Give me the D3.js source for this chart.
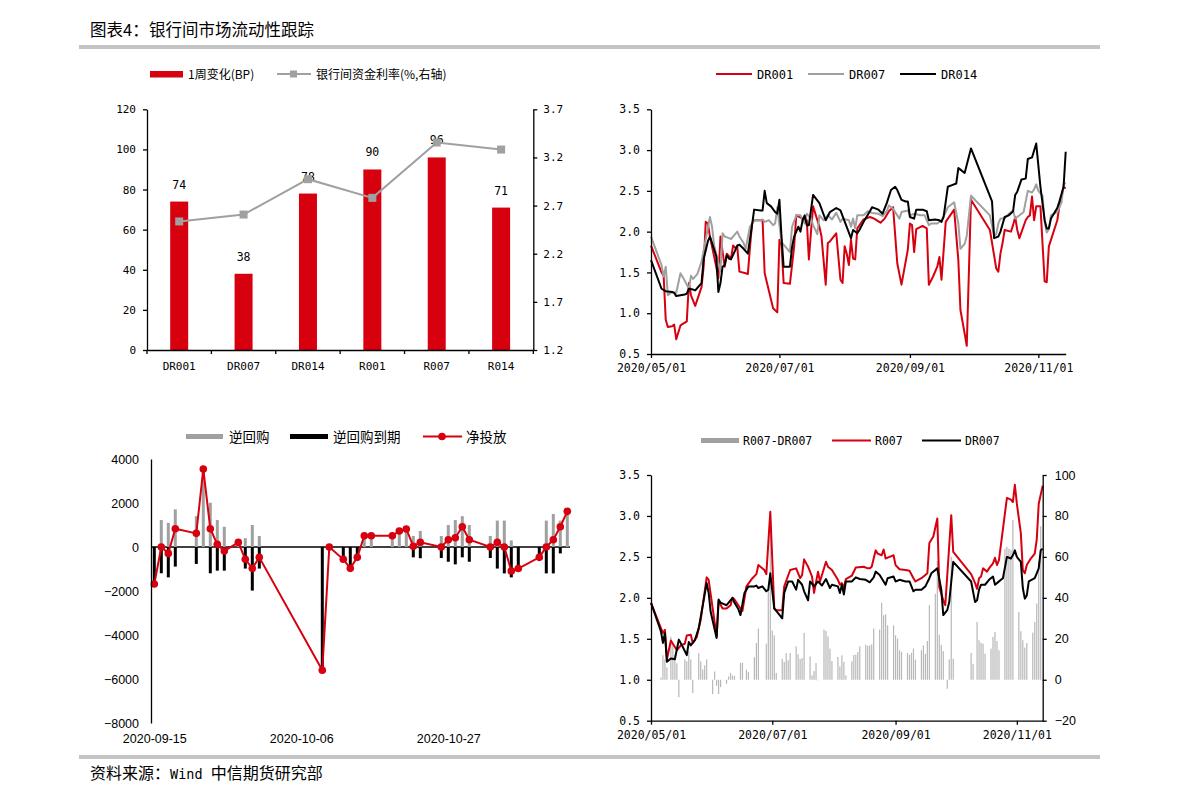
<!DOCTYPE html>
<html>
<head>
<meta charset="utf-8">
<script src="https://cdn.jsdelivr.net/npm/d3@7"></script>
<style>
    body { margin: 0; background: #fff; }
    svg { display: block; }
</style>
</head>
<body>
<svg id="chart" width="1191" height="801"></svg>
<script>
/* === 图表4 银行间市场流动性跟踪 (D3.js v7) === */

// ---- panel 1: weekly change (bars) + rate level (line, right axis)
var weekCats = ['DR001', 'DR007', 'DR014', 'R001', 'R007', 'R014'];
var weekChange = [74, 38, 78, 90, 96, 71];
var weekRate = [2.535, 2.607, 2.974, 2.780, 3.355, 3.282];
var p1LeftTicks = [0, 20, 40, 60, 80, 100, 120];
var p1RightTicks = [1.2, 1.7, 2.2, 2.7, 3.2, 3.7];

// ---- shared rate ticks / date ticks
var rateTicks = [0.5, 1.0, 1.5, 2.0, 2.5, 3.0, 3.5];
var monthTicks = ['05-01', '07-01', '09-01', '11-01'];
var spreadTicks = [-20, 0, 20, 40, 60, 80, 100];

// ---- panel 2 / 4 series ([MM-DD, %])
var DR001 = [
    ['05-01', 1.83], ['05-06', 1.50], ['05-07', 1.46], ['05-08', 0.92], ['05-09', 0.83], ['05-11', 0.84],
    ['05-12', 0.86], ['05-13', 0.68], ['05-15', 0.85], ['05-18', 0.90], ['05-19', 1.37], ['05-20', 1.22],
    ['05-22', 1.09], ['05-25', 1.32], ['05-26', 1.57], ['05-27', 2.12], ['05-28', 2.10], ['05-29', 1.94],
    ['06-01', 1.57], ['06-02', 1.43], ['06-03', 1.94], ['06-05', 1.57], ['06-06', 1.73], ['06-08', 1.67],
    ['06-09', 1.83], ['06-10', 1.80], ['06-11', 1.81], ['06-12', 1.51], ['06-15', 1.49], ['06-16', 1.48],
    ['06-17', 1.80], ['06-18', 2.10], ['06-19', 2.14], ['06-22', 2.14], ['06-23', 2.14], ['06-24', 1.49],
    ['06-28', 1.06], ['06-30', 1.01], ['07-01', 1.90], ['07-02', 1.84], ['07-03', 1.37], ['07-06', 1.36],
    ['07-08', 1.82], ['07-09', 2.20], ['07-12', 2.16], ['07-14', 2.14], ['07-15', 1.66], ['07-16', 2.00],
    ['07-17', 2.31], ['07-20', 2.06], ['07-21', 1.94], ['07-23', 1.35], ['07-24', 1.86], ['07-25', 1.88],
    ['07-28', 1.98], ['07-30', 1.41], ['07-31', 1.37], ['08-01', 1.82], ['08-02', 1.73], ['08-03', 1.59],
    ['08-04', 1.90], ['08-05', 1.67], ['08-06', 1.66], ['08-07', 2.04], ['08-10', 2.15], ['08-13', 2.18],
    ['08-15', 2.16], ['08-18', 2.11], ['08-20', 2.16], ['08-22', 2.25], ['08-24', 2.30], ['08-26', 1.61],
    ['08-28', 1.35], ['08-31', 1.78], ['09-01', 2.10], ['09-02', 2.08], ['09-03', 1.75], ['09-04', 2.03],
    ['09-07', 2.07], ['09-09', 2.04], ['09-10', 1.35], ['09-12', 1.45], ['09-14', 1.57], ['09-15', 1.69],
    ['09-16', 1.41], ['09-18', 2.12], ['09-22', 2.27], ['09-24', 1.65], ['09-25', 1.04], ['09-27', 0.75],
    ['09-28', 0.60], ['09-30', 2.39], ['10-09', 2.02], ['10-12', 1.55], ['10-13', 1.51], ['10-14', 1.73],
    ['10-15', 1.86], ['10-16', 2.02], ['10-19', 2.00], ['10-20', 2.08], ['10-21', 2.18], ['10-22', 2.02],
    ['10-23', 1.92], ['10-26', 2.14], ['10-27', 2.18], ['10-28', 2.20], ['10-29', 2.43], ['10-30', 2.14],
    ['10-31', 2.31], ['11-02', 2.31], ['11-04', 1.39], ['11-05', 1.38], ['11-06', 1.82], ['11-10', 2.14],
    ['11-11', 2.31], ['11-13', 2.55], ['11-14', 2.53]
];

var DR007 = [
    ['05-01', 1.94], ['05-06', 1.59], ['05-07', 1.45], ['05-08', 1.57], ['05-09', 1.22], ['05-11', 1.26],
    ['05-13', 1.25], ['05-15', 1.49], ['05-17', 1.40], ['05-19', 1.30], ['05-20', 1.46], ['05-21', 1.42],
    ['05-23', 1.48], ['05-25', 1.63], ['05-29', 2.18], ['05-30', 2.06], ['05-31', 1.83], ['06-03', 1.51],
    ['06-04', 1.98], ['06-05', 1.94], ['06-07', 1.92], ['06-08', 1.91], ['06-11', 2.00], ['06-12', 1.94],
    ['06-14', 1.86], ['06-15', 1.79], ['06-17', 2.06], ['06-19', 2.14], ['06-22', 2.14], ['06-23', 2.15],
    ['06-24', 2.12], ['06-26', 2.14], ['06-28', 2.08], ['06-29', 2.10], ['06-30', 2.30], ['07-02', 1.87],
    ['07-03', 1.84], ['07-06', 1.75], ['07-07', 2.06], ['07-09', 2.20], ['07-11', 2.20], ['07-13', 2.10],
    ['07-14', 2.22], ['07-16', 2.16], ['07-17', 2.08], ['07-19', 1.97], ['07-20', 2.20], ['07-22', 2.14],
    ['07-24', 2.20], ['07-26', 2.15], ['07-28', 2.23], ['07-30', 2.12], ['07-31', 2.16], ['08-03', 2.14],
    ['08-04', 2.06], ['08-05', 2.16], ['08-06', 2.04], ['08-07', 2.20], ['08-10', 2.20], ['08-12', 2.25],
    ['08-14', 2.23], ['08-17', 2.22], ['08-19', 2.19], ['08-21', 2.25], ['08-22', 2.32], ['08-24', 2.28],
    ['08-26', 2.20], ['08-27', 2.16], ['08-28', 2.24], ['08-31', 2.26], ['09-01', 2.20], ['09-03', 2.22],
    ['09-06', 2.20], ['09-08', 2.20], ['09-10', 2.08], ['09-11', 2.10], ['09-14', 2.10], ['09-16', 2.14],
    ['09-18', 2.24], ['09-19', 2.30], ['09-22', 2.36], ['09-24', 2.10], ['09-25', 1.79], ['09-27', 1.85],
    ['09-28', 1.95], ['09-30', 2.44], ['10-09', 2.20], ['10-11', 1.95], ['10-12', 1.97], ['10-13', 2.10],
    ['10-14', 2.16], ['10-16', 2.16], ['10-18', 2.22], ['10-20', 2.26], ['10-21', 2.16], ['10-22', 2.18],
    ['10-24', 2.22], ['10-25', 2.24], ['10-27', 2.50], ['10-29', 2.48], ['10-30', 2.52], ['10-31', 2.58],
    ['11-01', 2.50], ['11-03', 2.44], ['11-04', 2.12], ['11-05', 1.99], ['11-06', 2.03], ['11-07', 2.20],
    ['11-10', 2.24], ['11-11', 2.30], ['11-12', 2.36], ['11-13', 2.58], ['11-14', 2.60]
];

var DR014 = [
    ['05-01', 1.65], ['05-06', 1.30], ['05-08', 1.27], ['05-11', 1.26], ['05-12', 1.25], ['05-13', 1.21],
    ['05-15', 1.22], ['05-17', 1.23], ['05-18', 1.24], ['05-19', 1.30], ['05-21', 1.29], ['05-22', 1.28],
    ['05-25', 1.37], ['05-26', 1.66], ['05-28', 1.88], ['05-29', 1.94], ['06-01', 1.70], ['06-02', 1.26],
    ['06-03', 1.37], ['06-04', 1.57], ['06-05', 1.59], ['06-06', 1.71], ['06-07', 1.67], ['06-08', 1.66],
    ['06-10', 1.77], ['06-11', 1.83], ['06-12', 1.84], ['06-14', 1.79], ['06-16', 1.73], ['06-18', 2.08],
    ['06-19', 2.27], ['06-22', 2.26], ['06-23', 2.26], ['06-24', 2.50], ['06-25', 2.35], ['06-27', 2.31],
    ['06-29', 2.24], ['06-30', 2.22], ['07-01', 2.39], ['07-02', 1.94], ['07-03', 1.57], ['07-06', 1.57],
    ['07-07', 1.81], ['07-08', 1.94], ['07-10', 2.06], ['07-11', 2.00], ['07-12', 2.14], ['07-13', 2.20],
    ['07-14', 2.08], ['07-15', 2.08], ['07-17', 2.45], ['07-20', 2.35], ['07-23', 2.14], ['07-25', 2.24],
    ['07-28', 2.29], ['07-30', 2.26], ['08-04', 1.92], ['08-05', 2.02], ['08-07', 1.98], ['08-08', 2.02],
    ['08-10', 2.12], ['08-13', 2.25], ['08-14', 2.30], ['08-17', 2.27], ['08-19', 2.22], ['08-21', 2.35],
    ['08-23', 2.51], ['08-25', 2.55], ['08-26', 2.51], ['08-28', 2.39], ['08-30', 2.37], ['08-31', 2.37],
    ['09-01', 2.18], ['09-03', 2.16], ['09-04', 2.27], ['09-07', 2.27], ['09-09', 2.25], ['09-10', 2.14],
    ['09-13', 2.15], ['09-15', 2.14], ['09-16', 2.12], ['09-17', 2.18], ['09-19', 2.55], ['09-21', 2.57],
    ['09-23', 2.59], ['09-24', 2.78], ['09-25', 2.76], ['09-27', 2.72], ['09-30', 3.02], ['10-10', 2.37],
    ['10-11', 1.92], ['10-13', 1.94], ['10-14', 2.00], ['10-16', 2.18], ['10-18', 2.20], ['10-20', 2.25],
    ['10-21', 2.45], ['10-22', 2.49], ['10-24', 2.64], ['10-26', 2.65], ['10-27', 2.89], ['10-29', 2.91],
    ['10-31', 3.08], ['11-02', 2.55], ['11-04', 2.14], ['11-05', 2.04], ['11-06', 2.04], ['11-07', 2.16],
    ['11-10', 2.29], ['11-11', 2.37], ['11-13', 2.55], ['11-14', 2.98]
];

var R007 = [
    ['05-01', 1.94], ['05-06', 1.63], ['05-07', 1.57], ['05-08', 1.61], ['05-09', 1.25], ['05-11', 1.48],
    ['05-13', 1.40], ['05-14', 1.36], ['05-16', 1.42], ['05-18', 1.44], ['05-19', 1.54], ['05-21', 1.55],
    ['05-22', 1.45], ['05-24', 1.52], ['05-26', 1.73], ['05-29', 2.25], ['05-30', 2.22], ['06-03', 1.53],
    ['06-04', 1.96], ['06-06', 1.87], ['06-08', 1.87], ['06-10', 1.91], ['06-11', 2.00], ['06-12', 1.98],
    ['06-15', 1.87], ['06-16', 1.84], ['06-18', 2.14], ['06-21', 2.24], ['06-23', 2.29], ['06-24', 2.40],
    ['06-27', 2.34], ['06-28', 2.29], ['06-30', 3.05], ['07-02', 1.87], ['07-03', 1.85], ['07-06', 1.85],
    ['07-07', 2.14], ['07-10', 2.34], ['07-13', 2.36], ['07-15', 2.24], ['07-16', 2.28], ['07-17', 2.47],
    ['07-19', 2.38], ['07-21', 2.26], ['07-22', 2.06], ['07-24', 2.32], ['07-25', 2.20], ['07-28', 2.44],
    ['07-29', 2.38], ['07-31', 2.34], ['08-03', 2.22], ['08-04', 2.16], ['08-05', 2.18], ['08-06', 2.12],
    ['08-07', 2.23], ['08-10', 2.27], ['08-12', 2.37], ['08-16', 2.38], ['08-18', 2.36], ['08-19', 2.36],
    ['08-20', 2.38], ['08-22', 2.58], ['08-23', 2.54], ['08-25', 2.52], ['08-26', 2.59], ['08-27', 2.48],
    ['08-29', 2.50], ['08-31', 2.52], ['09-01', 2.40], ['09-03', 2.35], ['09-06', 2.34], ['09-08', 2.33],
    ['09-10', 2.24], ['09-11', 2.20], ['09-14', 2.24], ['09-16', 2.28], ['09-17', 2.30], ['09-18', 2.67],
    ['09-20', 2.75], ['09-22', 2.97], ['09-23', 2.13], ['09-25', 1.97], ['09-26', 1.91], ['09-29', 3.01],
    ['09-30', 2.56], ['10-09', 2.29], ['10-11', 2.18], ['10-12', 2.11], ['10-13', 2.24], ['10-14', 2.26],
    ['10-15', 2.36], ['10-17', 2.32], ['10-18', 2.36], ['10-20', 2.42], ['10-21', 2.49], ['10-22', 2.40],
    ['10-23', 2.46], ['10-27', 3.22], ['10-29', 3.20], ['10-30', 3.17], ['10-31', 3.38], ['11-01', 3.15],
    ['11-03', 2.79], ['11-04', 2.34], ['11-05', 2.30], ['11-06', 2.40], ['11-08', 2.48], ['11-10', 2.54],
    ['11-11', 2.71], ['11-12', 3.15], ['11-14', 3.37]
];

// R007-DR007 spread, bp
var spread = [
    ['05-06', 1], ['05-07', 12], ['05-08', 10], ['05-09', 6], ['05-11', 21], ['05-12', 17], ['05-13', 12],
    ['05-14', 8], ['05-15', -8.5], ['05-18', 10], ['05-19', 9], ['05-20', 14], ['05-21', 10], ['05-22', -6.5],
    ['05-25', 13], ['05-26', 9], ['05-27', 5], ['05-28', 7], ['05-29', 10], ['06-01', -7], ['06-02', 4],
    ['06-03', -3], ['06-04', -7], ['06-05', -3.6], ['06-08', -2], ['06-09', 1.6], ['06-10', 3.3], ['06-11', 2.1],
    ['06-12', 1.8], ['06-15', 8.2], ['06-16', 8.2], ['06-18', 4.9], ['06-19', 3.8], ['06-22', 11], ['06-23', 18],
    ['06-24', 25], ['06-28', 17.6], ['06-29', 45], ['06-30', 72], ['07-01', 24], ['07-02', 21.7], ['07-03', 3.3],
    ['07-06', 10.3], ['07-07', 8.7], ['07-08', 13], ['07-09', 9.5], ['07-10', 13], ['07-13', 16.3], ['07-14', 12.4],
    ['07-15', 10.1], ['07-16', 10.6], ['07-17', 22.9], ['07-20', 11.4], ['07-21', 2.1], ['07-22', 4.2],
    ['07-23', 8.2], ['07-24', -0.3], ['07-27', 24.5], ['07-28', 23.8], ['07-29', 21.2], ['07-30', 15.2],
    ['07-31', 9.1], ['08-03', 11.1], ['08-04', 6.5], ['08-05', 11.9], ['08-06', 8.7], ['08-07', 2.1],
    ['08-10', 9], ['08-11', 12.2], ['08-12', 12.2], ['08-13', 13.6], ['08-14', 16.3], ['08-17', 17.1],
    ['08-18', 16.5], ['08-19', 16.8], ['08-20', 17.3], ['08-21', 25], ['08-24', 24.5], ['08-25', 37.6],
    ['08-26', 31.5], ['08-27', 32], ['08-28', 26.6], ['08-31', 26.6], ['09-01', 21.7], ['09-02', 20.1],
    ['09-03', 14.4], ['09-04', 13.6], ['09-07', 13.1], ['09-08', 12.2], ['09-09', 13.1], ['09-10', 15.2],
    ['09-11', 9.8], ['09-14', 14.4], ['09-15', 16.8], ['09-16', 12.7], ['09-17', 18.9], ['09-18', 36.4],
    ['09-21', 42], ['09-22', 58], ['09-23', 22], ['09-24', 17], ['09-25', 14], ['09-27', -4.4], ['09-28', 10],
    ['09-29', 60], ['09-30', 10.3], ['10-09', 13.1], ['10-10', 7.8], ['10-12', 28.2], ['10-13', 19.3],
    ['10-14', 18], ['10-15', 17.6], ['10-16', 12.7], ['10-19', 15.2], ['10-20', 20.9], ['10-21', 23.3],
    ['10-22', 18.9], ['10-23', 14.4], ['10-26', 64], ['10-27', 65], ['10-28', 64], ['10-29', 63.5],
    ['10-30', 78], ['11-02', 33.1], ['11-03', 23.7], ['11-04', 19.3], ['11-05', 15.7], ['11-06', 18],
    ['11-09', 23], ['11-10', 28.2], ['11-11', 37.2], ['11-12', 58], ['11-13', 75]
];

// ---- panel 3: open market operations, 亿元
var omoDates = ['09-15', '09-16', '09-17', '09-18', '09-21', '09-22', '09-23', '09-24', '09-25', '09-27',
    '09-28', '09-29', '09-30', '10-09', '10-10', '10-12', '10-13', '10-14', '10-15', '10-16', '10-19',
    '10-20', '10-21', '10-22', '10-23', '10-26', '10-27', '10-28', '10-29', '10-30', '11-02', '11-03',
    '11-04', '11-05', '11-06', '11-09', '11-10', '11-11', '11-12', '11-13'];
var reverseRepo = [0, 1225, 1100, 1710, 1400, 3500, 2010, 1225, 920, 200, 400, 1000, 500, 0, 0, 0, 0, 0,
    510, 510, 510, 730, 820, 500, 730, 500, 1000, 1225, 1400, 1000, 500, 1200, 1200, 300, 0, 0, 1200,
    1500, 1200, 1600];
var repoMaturity = [1680, 1195, 1380, 890, 770, 0, 1195, 1075, 1075, 0, 980, 1980, 980, 5600, 0, 560,
    980, 470, 0, 0, 0, 0, 0, 470, 510, 500, 670, 790, 470, 670, 500, 980, 1200, 1380, 980, 470, 1200,
    1200, 290, 0];
var netInjection = [-1680, 0, -290, 830, 620, 3540, 830, 120, -180, 210, -560, -970, -470, -5600, 0,
    -560, -970, -470, 510, 510, 510, 730, 820, 30, 210, 0, 330, 420, 920, 330, 0, 210, 0, -1090, -980,
    -470, 0, 330, 920, 1620];
var omoTicks = [-8000, -6000, -4000, -2000, 0, 2000, 4000];
var omoDateTicks = ['09-15', '10-06', '10-27'];

// ---- look
var RED = '#d7000f';
var GREY = '#a0a0a0';
var MONO = '"DejaVu Sans Mono", monospace';
var CJK = '"Noto Sans CJK SC", sans-serif';
var SANS = '"Liberation Sans", Arial, sans-serif';

function md(s) {
    var p = s.split('-');
    return new Date(2020, +p[0] - 1, +p[1]);
}

var svg = d3.select('#chart');

function styleAxis(g, font, size) {
    g.select('.domain').attr('stroke', '#000').attr('stroke-width', 1.3);
    g.selectAll('.tick line').attr('stroke', '#000').attr('stroke-width', 1.3);
    g.selectAll('.tick text').attr('fill', '#000')
        .style('font-family', font).style('font-size', size + 'px');
}

function addText(x, y, str, font, size, anchor) {
    return svg.append('text')
        .attr('x', x).attr('y', y)
        .attr('text-anchor', anchor || 'start')
        .style('font-family', font).style('font-size', size + 'px')
        .attr('fill', '#000')
        .text(str);
}

// ---- header / footer
addText(90, 36, '图表4：', CJK, 16.5);
addText(149, 36, '银行间市场流动性跟踪', CJK, 16.5);
svg.append('rect').attr('x', 79).attr('y', 45).attr('width', 1021).attr('height', 4).attr('fill', '#c4c4c4');
svg.append('rect').attr('x', 79).attr('y', 755).attr('width', 1021).attr('height', 4).attr('fill', '#c4c4c4');
var foot = svg.append('text').attr('x', 90).attr('y', 779).attr('fill', '#000')
    .style('font-family', CJK).style('font-size', '16px');
foot.append('tspan').text('资料来源：');
foot.append('tspan').style('font-family', MONO).style('font-size', '13.5px').text('Wind ');
foot.append('tspan').text('中信期货研究部');

/* ---------- panel 1 ---------- */
(function() {
    var x = d3.scaleBand().domain(weekCats).range([147, 533.3]);
    var y = d3.scaleLinear().domain([0, 120]).range([350, 109.3]);
    var yr = d3.scaleLinear().domain([1.2, 3.7]).range([350, 109.3]);
    var g = svg.append('g');

    g.selectAll('rect.bar')
        .data(weekChange)
        .join('rect')
        .attr('class', 'bar')
        .attr('x', function(d, i) { return x(weekCats[i]) + x.bandwidth() / 2 - 9; })
        .attr('y', function(d) { return y(d); })
        .attr('width', 18)
        .attr('height', function(d) { return y(0) - y(d); })
        .attr('fill', RED);

    g.selectAll('text.lbl')
        .data(weekChange)
        .join('text')
        .attr('class', 'lbl')
        .attr('x', function(d, i) { return x(weekCats[i]) + x.bandwidth() / 2; })
        .attr('y', function(d) { return y(d) - 13; })
        .attr('text-anchor', 'middle')
        .style('font-family', MONO).style('font-size', '11.5px')
        .text(function(d) { return d; });

    var line = d3.line()
        .x(function(d, i) { return x(weekCats[i]) + x.bandwidth() / 2; })
        .y(function(d) { return yr(d); });
    g.append('path').datum(weekRate).attr('d', line)
        .attr('fill', 'none').attr('stroke', GREY).attr('stroke-width', 2);
    g.selectAll('rect.mk')
        .data(weekRate)
        .join('rect')
        .attr('class', 'mk')
        .attr('x', function(d, i) { return x(weekCats[i]) + x.bandwidth() / 2 - 4; })
        .attr('y', function(d) { return yr(d) - 4; })
        .attr('width', 8).attr('height', 8)
        .attr('fill', GREY);

    var ax = g.append('g').attr('transform', 'translate(147,0)')
        .call(d3.axisLeft(y).tickValues(p1LeftTicks).tickSize(4).tickPadding(7).tickSizeOuter(0));
    styleAxis(ax, MONO, 11);
    var axr = g.append('g').attr('transform', 'translate(533.3,0)')
        .call(d3.axisRight(yr).tickValues(p1RightTicks).tickFormat(d3.format('.1f'))
            .tickSize(4).tickPadding(6).tickSizeOuter(0));
    styleAxis(axr, MONO, 11);
    var axb = g.append('g').attr('transform', 'translate(0,350)')
        .call(d3.axisBottom(x).tickSize(0).tickPadding(12).tickSizeOuter(0));
    styleAxis(axb, MONO, 11);
    // boundary ticks between categories
    var bounds = weekCats.map(function(c) { return x(c); }).concat([x.range()[1]]);
    g.selectAll('line.bt')
        .data(bounds)
        .join('line')
        .attr('class', 'bt')
        .attr('x1', function(d) { return d; }).attr('x2', function(d) { return d; })
        .attr('y1', 350).attr('y2', 354)
        .attr('stroke', '#000').attr('stroke-width', 1.3);

    // legend
    g.append('rect').attr('x', 150).attr('y', 71).attr('width', 33).attr('height', 6.5).attr('fill', RED);
    addText(188, 79, '1周变化(BP)', CJK, 12);
    g.append('line').attr('x1', 277).attr('x2', 311).attr('y1', 74).attr('y2', 74)
        .attr('stroke', GREY).attr('stroke-width', 2);
    g.append('rect').attr('x', 290).attr('y', 70.5).attr('width', 7).attr('height', 7).attr('fill', GREY);
    addText(316, 79, '银行间资金利率(%,右轴)', CJK, 12);
})();

/* ---------- panel 2 ---------- */
(function() {
    var x = d3.scaleTime().domain([md('05-01'), md('11-14')]).range([651, 1065.7]);
    var y = d3.scaleLinear().domain([0.5, 3.5]).range([354, 109.3]);
    var g = svg.append('g');

    var line = d3.line()
        .x(function(d) { return x(md(d[0])); })
        .y(function(d) { return y(d[1]); });

    [[DR001, RED], [DR007, GREY], [DR014, '#000']].forEach(function(s) {
        g.append('path').datum(s[0]).attr('d', line)
            .attr('fill', 'none').attr('stroke', s[1]).attr('stroke-width', 2)
            .attr('stroke-linejoin', 'round');
    });

    var ay = g.append('g').attr('transform', 'translate(651,0)')
        .call(d3.axisLeft(y).tickValues(rateTicks).tickFormat(d3.format('.1f'))
            .tickSize(4).tickPadding(7).tickSizeOuter(0));
    styleAxis(ay, MONO, 11.5);
    var axb = g.append('g').attr('transform', 'translate(0,354)')
        .call(d3.axisBottom(x).tickValues(monthTicks.map(md)).tickFormat(d3.timeFormat('%Y/%m/%d'))
            .tickSize(4).tickPadding(6).tickSizeOuter(0));
    styleAxis(axb, MONO, 11.5);

    // legend
    var items = [['DR001', RED, 716], ['DR007', GREY, 808], ['DR014', '#000', 900]];
    items.forEach(function(it) {
        g.append('line').attr('x1', it[2]).attr('x2', it[2] + 36).attr('y1', 74).attr('y2', 74)
            .attr('stroke', it[1]).attr('stroke-width', 2);
        addText(it[2] + 41, 78.5, it[0], MONO, 12);
    });
})();

/* ---------- panel 3 ---------- */
(function() {
    var x = d3.scaleTime().domain([md('09-15'), md('11-13')]).range([154.3, 567.3]);
    var y = d3.scaleLinear().domain([-8000, 4000]).range([723, 459]);
    var g = svg.append('g');

    // zero line
    g.append('line').attr('x1', 151).attr('x2', 570).attr('y1', y(0)).attr('y2', y(0))
        .attr('stroke', '#000').attr('stroke-width', 1.3);

    g.selectAll('rect.rr')
        .data(reverseRepo)
        .join('rect')
        .attr('class', 'rr')
        .attr('x', function(d, i) { return x(md(omoDates[i])) - 1.5; })
        .attr('y', function(d) { return y(d); })
        .attr('width', 3)
        .attr('height', function(d) { return y(0) - y(d); })
        .attr('fill', GREY);

    g.selectAll('rect.mat')
        .data(repoMaturity)
        .join('rect')
        .attr('class', 'mat')
        .attr('x', function(d, i) { return x(md(omoDates[i])) - 1.5; })
        .attr('y', y(0))
        .attr('width', 3)
        .attr('height', function(d) { return y(-d) - y(0); })
        .attr('fill', '#000');

    var line = d3.line()
        .x(function(d, i) { return x(md(omoDates[i])); })
        .y(function(d) { return y(d); });
    g.append('path').datum(netInjection).attr('d', line)
        .attr('fill', 'none').attr('stroke', RED).attr('stroke-width', 2);
    g.selectAll('circle.net')
        .data(netInjection)
        .join('circle')
        .attr('class', 'net')
        .attr('cx', function(d, i) { return x(md(omoDates[i])); })
        .attr('cy', function(d) { return y(d); })
        .attr('r', 3.8)
        .attr('fill', RED);

    var ay = g.append('g').attr('transform', 'translate(151,0)')
        .call(d3.axisLeft(y).tickValues(omoTicks).tickFormat(d3.format('d'))
            .tickSize(0).tickPadding(12).tickSizeOuter(0));
    styleAxis(ay, SANS, 12.5);
    var axb = g.append('g').attr('transform', 'translate(0,723)')
        .call(d3.axisBottom(x).tickValues(omoDateTicks.map(md)).tickFormat(d3.timeFormat('%Y-%m-%d'))
            .tickSize(0).tickPadding(11));
    axb.select('.domain').remove();
    styleAxis(axb, SANS, 12.5);

    // legend
    g.append('rect').attr('x', 186).attr('y', 434).attr('width', 37).attr('height', 5).attr('fill', GREY);
    addText(229, 442, '逆回购', CJK, 13.5);
    g.append('rect').attr('x', 290).attr('y', 434).attr('width', 38).attr('height', 5).attr('fill', '#000');
    addText(333, 442, '逆回购到期', CJK, 13.5);
    g.append('line').attr('x1', 423).attr('x2', 462).attr('y1', 436.5).attr('y2', 436.5)
        .attr('stroke', RED).attr('stroke-width', 2);
    g.append('circle').attr('cx', 442).attr('cy', 436.5).attr('r', 3.8).attr('fill', RED);
    addText(466, 442, '净投放', CJK, 13.5);
})();

/* ---------- panel 4 ---------- */
(function() {
    var x = d3.scaleTime().domain([md('05-01'), md('11-14')]).range([651, 1042.7]);
    var y = d3.scaleLinear().domain([0.5, 3.5]).range([720.7, 475]);
    var yr = d3.scaleLinear().domain([-20, 100]).range([720.7, 475]);
    var g = svg.append('g');

    g.selectAll('rect.sp')
        .data(spread)
        .join('rect')
        .attr('class', 'sp')
        .attr('x', function(d) { return x(md(d[0])) - 0.6; })
        .attr('y', function(d) { return yr(Math.max(0, d[1])); })
        .attr('width', 1.2)
        .attr('height', function(d) { return Math.abs(yr(d[1]) - yr(0)); })
        .attr('fill', '#b8b8b8');

    var line = d3.line()
        .x(function(d) { return x(md(d[0])); })
        .y(function(d) { return y(d[1]); });
    g.append('path').datum(R007).attr('d', line)
        .attr('fill', 'none').attr('stroke', RED).attr('stroke-width', 2).attr('stroke-linejoin', 'round');
    g.append('path').datum(DR007).attr('d', line)
        .attr('fill', 'none').attr('stroke', '#000').attr('stroke-width', 2).attr('stroke-linejoin', 'round');

    var ay = g.append('g').attr('transform', 'translate(651,0)')
        .call(d3.axisLeft(y).tickValues(rateTicks).tickFormat(d3.format('.1f'))
            .tickSize(4).tickPadding(7).tickSizeOuter(0));
    styleAxis(ay, MONO, 11.5);
    var ayr = g.append('g').attr('transform', 'translate(1042.7,0)')
        .call(d3.axisRight(yr).tickValues(spreadTicks).tickSize(4).tickPadding(8).tickSizeOuter(0));
    styleAxis(ayr, SANS, 12.5);
    var axb = g.append('g').attr('transform', 'translate(0,720.7)')
        .call(d3.axisBottom(x).tickValues(monthTicks.map(md)).tickFormat(d3.timeFormat('%Y/%m/%d'))
            .tickSize(4).tickPadding(6).tickSizeOuter(0));
    styleAxis(axb, MONO, 11.5);

    // legend
    g.append('rect').attr('x', 701).attr('y', 438).attr('width', 38).attr('height', 5).attr('fill', GREY);
    addText(743, 445, 'R007-DR007', MONO, 11.5);
    g.append('line').attr('x1', 832).attr('x2', 871).attr('y1', 440.5).attr('y2', 440.5)
        .attr('stroke', RED).attr('stroke-width', 2);
    addText(875, 445, 'R007', MONO, 11.5);
    g.append('line').attr('x1', 922).attr('x2', 961).attr('y1', 440.5).attr('y2', 440.5)
        .attr('stroke', '#000').attr('stroke-width', 2);
    addText(965, 445, 'DR007', MONO, 11.5);
})();
</script>
</body>
</html>
